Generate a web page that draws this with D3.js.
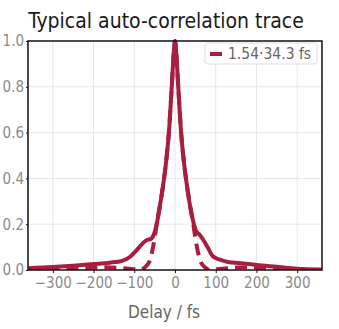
<!DOCTYPE html>
<html>
<head>
<meta charset="utf-8">
<script src="https://cdn.jsdelivr.net/npm/d3@7"></script>
<style>
  body { margin: 0; background: #fff; }
  svg { display: block; }
  text { font-family: "DejaVu Sans Condensed", sans-serif; }
</style>
</head>
<body>
<figure style="margin:0"></figure>
<script>
const width = 339
const height = 329
const margin = { top: 41, right: 17, bottom: 59, left: 28 }

const red = '#a81e3e'

// measured trace (solid)
const delayMeasured = [-360, -300, -250, -200, -160, -130, -110, -95, -80, -68, -60, -52, -45, -38, -30, -22, -15, -8, -3, 0,
  3, 8, 15, 22, 30, 38, 45, 52, 60, 70, 80, 93, 110, 130, 160, 200, 250, 300, 360]
const acMeasured = [0.008, 0.013, 0.019, 0.026, 0.032, 0.040, 0.058, 0.085, 0.115, 0.132, 0.135, 0.155, 0.20, 0.27, 0.36, 0.47, 0.60, 0.80, 0.95, 1.0,
  0.95, 0.80, 0.60, 0.47, 0.36, 0.27, 0.21, 0.17, 0.155, 0.13, 0.10, 0.06, 0.045, 0.035, 0.03, 0.022, 0.014, 0.006, 0.002]

// transform-limited trace (dashed)
const delayTL = [-360, -300, -250, -210, -170, -130, -100, -86, -75, -62, -55, -50, -45, -38, -30, -22, -15, -8, -3, 0,
  3, 8, 15, 22, 30, 38, 45, 50, 55, 62, 75, 86, 100, 130, 170, 210, 250, 300, 360]
const acTL = [0.0, 0.002, 0.006, 0.01, 0.012, 0.008, 0.003, 0.0, 0.01, 0.04, 0.09, 0.14, 0.20, 0.27, 0.36, 0.47, 0.60, 0.80, 0.95, 1.0,
  0.95, 0.80, 0.60, 0.47, 0.36, 0.27, 0.20, 0.14, 0.09, 0.04, 0.01, 0.0, 0.003, 0.008, 0.012, 0.01, 0.006, 0.002, 0.0]

const xTicks = [-300, -200, -100, 0, 100, 200, 300]
const yTicks = [0, 0.2, 0.4, 0.6, 0.8, 1.0]
const legendLabel = '1.54·34.3 fs'

const x = d3.scaleLinear().domain([-361, 361]).range([margin.left, width - margin.right])
const y = d3.scaleLinear().domain([0, 1]).range([height - margin.bottom, margin.top])

const svg = d3.select('figure').append('svg')
  .attr('width', width)
  .attr('height', height)

// grid
svg.append('g')
  .attr('stroke', '#e6e6e6')
  .attr('stroke-width', 1)
  .call(g => g.selectAll('line.v').data(xTicks).join('line')
    .attr('x1', d => x(d)).attr('x2', d => x(d))
    .attr('y1', y(0)).attr('y2', y(1)))
  .call(g => g.selectAll('line.h').data(yTicks.slice(1, -1)).join('line')
    .attr('x1', x.range()[0]).attr('x2', x.range()[1])
    .attr('y1', d => y(d)).attr('y2', d => y(d)))

const line = d3.line()
  .x(d => x(d[0]))
  .y(d => y(d[1]))
  .curve(d3.curveMonotoneX)

svg.append('clipPath').attr('id', 'clip')
  .append('rect')
  .attr('x', margin.left).attr('y', margin.top - 4)
  .attr('width', width - margin.left - margin.right)
  .attr('height', height - margin.top - margin.bottom + 4)

svg.append('path')
  .datum(d3.zip(delayTL, acTL))
  .attr('clip-path', 'url(#clip)')
  .attr('fill', 'none')
  .attr('stroke', red)
  .attr('stroke-width', 4)
  .attr('stroke-dasharray', '12,7')
  .attr('d', line)

svg.append('path')
  .datum(d3.zip(delayMeasured, acMeasured))
  .attr('clip-path', 'url(#clip)')
  .attr('fill', 'none')
  .attr('stroke', red)
  .attr('stroke-width', 4)
  .attr('stroke-linejoin', 'round')
  .attr('d', line)

// frame
svg.append('rect')
  .attr('x', margin.left).attr('y', margin.top)
  .attr('width', width - margin.left - margin.right)
  .attr('height', height - margin.top - margin.bottom)
  .attr('fill', 'none')
  .attr('stroke', '#111')
  .attr('stroke-width', 1.5)

// axes
const xAxis = svg.append('g')
  .attr('transform', `translate(0,${height - margin.bottom})`)
  .call(d3.axisBottom(x).tickValues(xTicks).tickSize(3).tickPadding(4))
xAxis.select('.domain').remove()
xAxis.selectAll('line').attr('stroke', '#111')
xAxis.selectAll('text').attr('fill', '#8a8a8a').style('font-size', '15px')
  .style('font-family', '"DejaVu Sans Condensed", sans-serif')

const yAxis = svg.append('g')
  .attr('transform', `translate(${margin.left},0)`)
  .call(d3.axisLeft(y).tickValues(yTicks).tickFormat(d3.format('.1f')).tickSize(2).tickPadding(2))
yAxis.select('.domain').remove()
yAxis.selectAll('line').attr('stroke', '#111')
yAxis.selectAll('text').attr('fill', '#8a8a8a').style('font-size', '15px')
  .style('font-family', '"DejaVu Sans Condensed", sans-serif')

svg.append('text')
  .attr('x', 164).attr('y', 318)
  .attr('text-anchor', 'middle')
  .attr('fill', '#666')
  .style('font-size', '17px')
  .text('Delay / fs')

svg.append('text')
  .attr('x', 166).attr('y', 28)
  .attr('text-anchor', 'middle')
  .attr('fill', '#1a1a1a')
  .style('font-size', '21px')
  .text('Typical auto-correlation trace')

// legend
const legend = svg.append('g').attr('transform', 'translate(205,43)')
legend.append('rect')
  .attr('width', 112).attr('height', 21).attr('rx', 3)
  .attr('fill', '#fff')
  .attr('stroke', '#ddd')
legend.append('line')
  .attr('x1', 5).attr('x2', 17).attr('y1', 11).attr('y2', 11)
  .attr('stroke', red).attr('stroke-width', 4)
legend.append('text')
  .attr('x', 23).attr('y', 16)
  .attr('fill', '#666')
  .style('font-size', '15.5px')
  .text(legendLabel)
</script>
</body>
</html>
